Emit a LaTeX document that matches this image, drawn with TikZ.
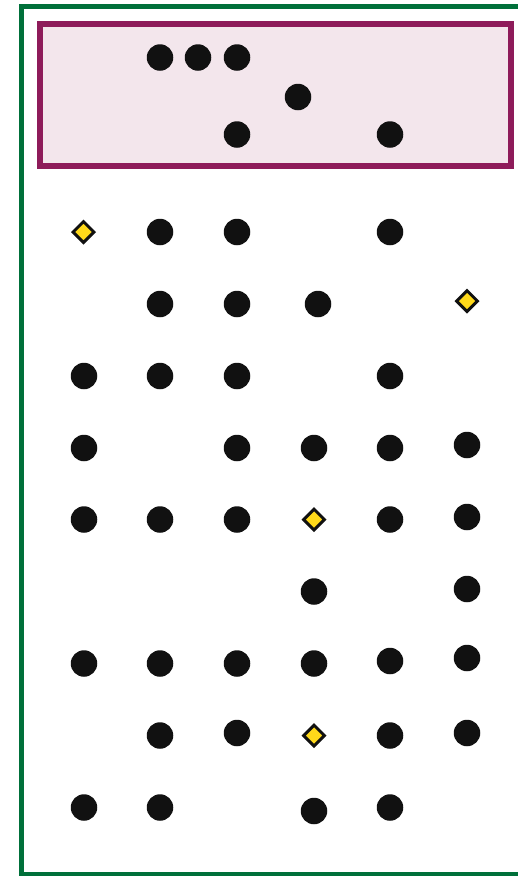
\documentclass[tikz,border=0pt]{standalone}
\usetikzlibrary{shapes.geometric}
\definecolor{framegreen}{HTML}{00703A}
\definecolor{boxpurple}{HTML}{8E1B5A}
\definecolor{boxfill}{HTML}{F3E6EC}
\definecolor{dotblack}{HTML}{111111}
\definecolor{gemyellow}{HTML}{FFD91A}
\tikzset{
  dotnode/.style={circle, fill=dotblack, draw=none, inner sep=0pt, minimum size=26.5pt},
  gemnode/.style={diamond, fill=gemyellow, draw=dotblack, line width=3pt, inner sep=0pt, minimum width=22pt, minimum height=22pt},
  frameline/.style={draw=framegreen, line width=5pt},
  zonebox/.style={draw=boxpurple, fill=boxfill, line width=6pt}
}
\begin{document}
\begin{tikzpicture}[x=1pt,y=-1pt]
\useasboundingbox (0,0) rectangle (518,876);
\begin{scope}
\clip (0,0) rectangle (518,876);
\draw[frameline] (21,6.5) rectangle (540,874.5);
\end{scope}
\draw[zonebox] (40,24) rectangle (510.5,166);
% top box
\node[dotnode] (d1) at (160,57.5) {};
\node[dotnode] (d2) at (198,57.5) {};
\node[dotnode] (d3) at (237,57.5) {};
\node[dotnode] (d4) at (298,97) {};
\node[dotnode] (d5) at (237,134.5) {};
\node[dotnode] (d6) at (390,134.5) {};
% row 1
\node[gemnode] (g1) at (83.5,232) {};
\node[dotnode] (r1a) at (160,232) {};
\node[dotnode] (r1b) at (237,232) {};
\node[dotnode] (r1c) at (390,232) {};
% row 2
\node[dotnode] (r2a) at (160,304) {};
\node[dotnode] (r2b) at (237,304) {};
\node[dotnode] (r2c) at (318,304) {};
\node[gemnode] (g2) at (467,301) {};
% row 3
\node[dotnode] (r3a) at (84,376) {};
\node[dotnode] (r3b) at (160,376) {};
\node[dotnode] (r3c) at (237,376) {};
\node[dotnode] (r3d) at (390,376) {};
% row 4
\node[dotnode] (r4a) at (84,448) {};
\node[dotnode] (r4b) at (237,448) {};
\node[dotnode] (r4c) at (314,448) {};
\node[dotnode] (r4d) at (390,448) {};
\node[dotnode] (r4e) at (467,445) {};
% row 5
\node[dotnode] (r5a) at (84,519.5) {};
\node[dotnode] (r5b) at (160,519.5) {};
\node[dotnode] (r5c) at (237,519.5) {};
\node[gemnode] (g3) at (314,519.5) {};
\node[dotnode] (r5d) at (390,519.5) {};
\node[dotnode] (r5e) at (467,517) {};
% row 6
\node[dotnode] (r6a) at (314,591.5) {};
\node[dotnode] (r6b) at (467,589) {};
% row 7
\node[dotnode] (r7a) at (84,663.5) {};
\node[dotnode] (r7b) at (160,663.5) {};
\node[dotnode] (r7c) at (237,663.5) {};
\node[dotnode] (r7d) at (314,663.5) {};
\node[dotnode] (r7e) at (390,661) {};
\node[dotnode] (r7f) at (467,658) {};
% row 8
\node[dotnode] (r8a) at (160,735.5) {};
\node[dotnode] (r8b) at (237,733) {};
\node[gemnode] (g4) at (314,735.5) {};
\node[dotnode] (r8c) at (390,735.5) {};
\node[dotnode] (r8d) at (467,733) {};
% row 9
\node[dotnode] (r9a) at (84,807.5) {};
\node[dotnode] (r9b) at (160,807.5) {};
\node[dotnode] (r9c) at (314,811) {};
\node[dotnode] (r9d) at (390,807.5) {};
\end{tikzpicture}
\end{document}
